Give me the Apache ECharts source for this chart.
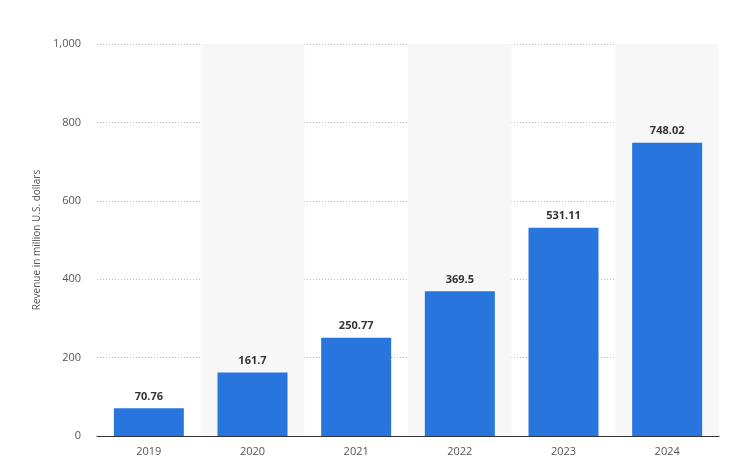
<!DOCTYPE html>
<html><head><meta charset="utf-8">
<script src="https://cdn.jsdelivr.net/npm/echarts@6/dist/echarts.min.js"></script>
<style>html,body{margin:0;padding:0;background:#fff}#c{width:729px;height:473px}</style>
</head><body><div id="c"></div>
<script>
const categories = ['2019','2020','2021','2022','2023','2024'];
const revenue = [70.76, 161.7, 250.77, 369.5, 531.11, 748.02];
const yTicks = [0, 200, 400, 600, 800, 1000];
const chart = echarts.init(document.getElementById('c'));
chart.setOption({
  animation:false,
  grid:{left:97,right:10,top:44,bottom:37},
  xAxis:{type:'category',data:categories,
    axisLine:{lineStyle:{color:'#333'}},axisTick:{show:false},
    axisLabel:{color:'#555',fontSize:11,fontFamily:'Open Sans',margin:10},
    splitArea:{show:true,areaStyle:{color:['rgba(0,0,0,0)','#f7f7f7']}}},
  yAxis:{type:'value',min:0,max:1000,interval:200,
    name:'Revenue in million U.S. dollars',nameLocation:'middle',nameGap:52,
    nameTextStyle:{color:'#555',fontSize:10,fontFamily:'Open Sans'},
    axisLabel:{color:'#555',fontSize:11,fontFamily:'Open Sans',margin:16,
      formatter:v=>yTicks.includes(v)?v.toLocaleString('en-US'):''},
    splitLine:{lineStyle:{color:'#bbb',type:[1,2]}}},
  series:[{type:'bar',data:revenue,barWidth:70,itemStyle:{color:'#2876dd'},
    label:{show:true,position:'top',color:'#333',fontWeight:'bold',fontSize:11,fontFamily:'Open Sans',distance:6}}]
});
</script></body></html>
